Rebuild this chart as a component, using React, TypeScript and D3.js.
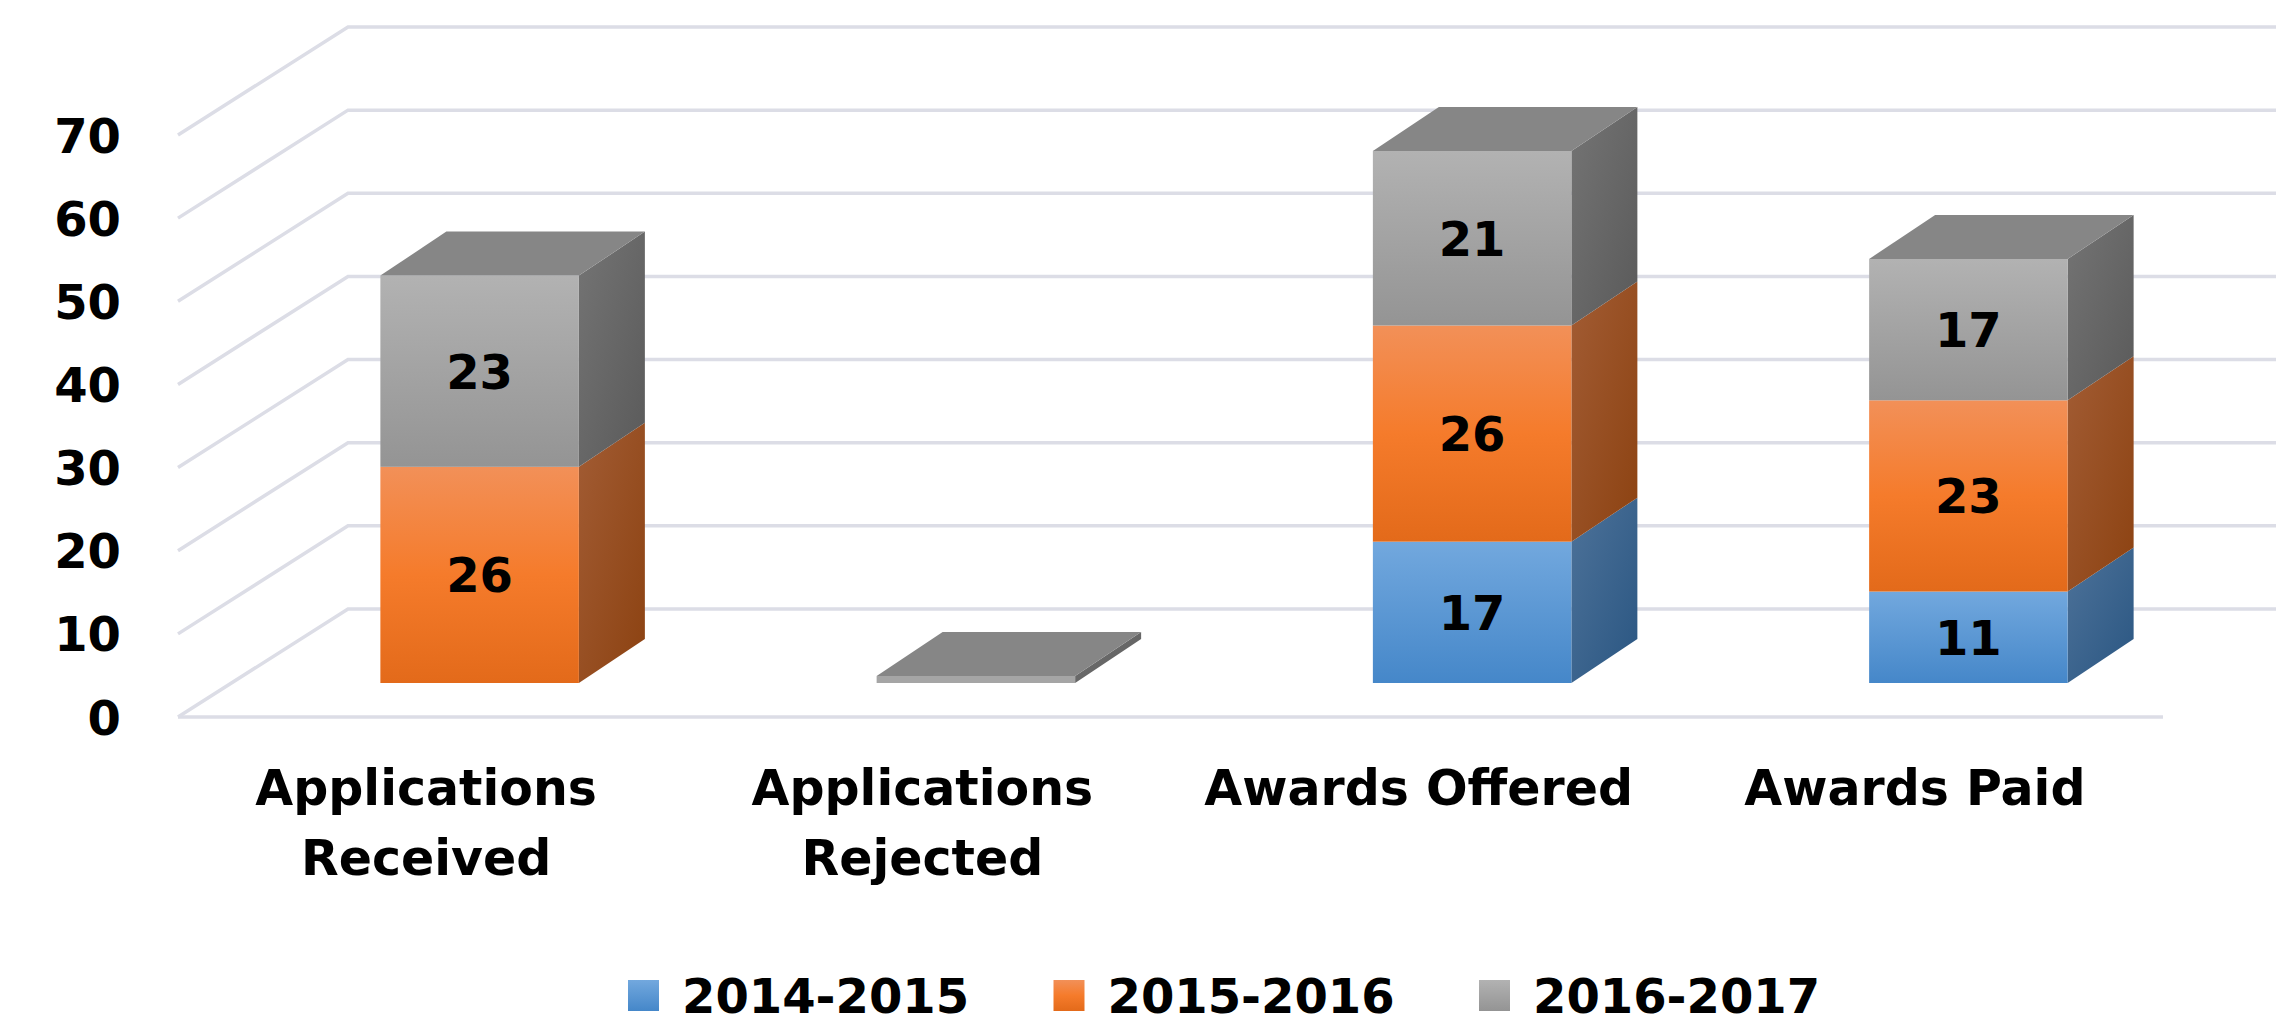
import React from "react";
import * as d3 from "d3";

// ---- data ----
const categories = ["Applications Received", "Applications Rejected", "Awards Offered", "Awards Paid"];
const seriesNames = ["2014-2015", "2015-2016", "2016-2017"];
const values2014 = [0, 0, 17, 11];
const values2015 = [26, 0, 26, 23];
const values2016 = [23, 0, 21, 17];
const yTicks = [0, 10, 20, 30, 40, 50, 60, 70];

const seriesValues = [values2014, values2015, values2016];

// ---- styles ----
const palette = [
  { frontTop: "#72a8de", frontBot: "#4587c9", sideTop: "#4d7299", sideBot: "#2a5682", topFace: "#3f6f9f" },
  { frontTop: "#f29058", frontMid: "#f57b2b", frontBot: "#e36a1a", sideTop: "#a25c34", sideBot: "#8c4211", topFace: "#b4581c" },
  { frontTop: "#b2b2b2", frontBot: "#949494", sideTop: "#747474", sideBot: "#5a5a5a", topFace: "#868686" },
];

const W = 2276;
const H = 1024;
const FONT = "'DejaVu Sans', Verdana, sans-serif";

export default function App() {
  const floorLeft = 178;
  const floorRight = 2163;
  const wallDx = 170;
  const wallDy = 108;
  const recessDx = 53.5;
  const recessDy = 34;
  const depthDx = 66;
  const depthDy = 44;
  const slab = 7;

  const y = d3.scaleLinear().domain([0, 70]).range([717, 135]);
  const x = d3.scaleBand<string>().domain(categories).range([floorLeft, floorRight]).paddingInner(0.6).paddingOuter(0.3);
  const bw = x.bandwidth();

  const stack = d3
    .stack<number>()
    .keys(seriesNames.map((_, i) => String(i)))
    .value((d, key) => seriesValues[+key][d]);
  const layers = stack(categories.map((_, i) => i));

  const pts = (arr: number[][]) => arr.map((p) => p.join(",")).join(" ");

  return (
    <svg
      width={W}
      height={H}
      style={{ position: "absolute", left: 0, top: 0, background: "#fff" }}
      fontFamily={FONT}
    >
      <defs>
        {palette.map((c, i) => (
          <React.Fragment key={i}>
            <linearGradient id={`front${i}`} x1="0" y1="0" x2="0" y2="1">
              <stop offset="0" stopColor={c.frontTop} />
              {c.frontMid ? <stop offset="0.5" stopColor={c.frontMid} /> : null}
              <stop offset="1" stopColor={c.frontBot} />
            </linearGradient>
            <linearGradient id={`side${i}`} x1="0" y1="0" x2="1" y2="1">
              <stop offset="0" stopColor={c.sideTop} />
              <stop offset="1" stopColor={c.sideBot} />
            </linearGradient>
          </React.Fragment>
        ))}
      </defs>

      {/* gridlines: side wall diagonals + back wall horizontals */}
      <g stroke="#dcdde6" strokeWidth={3.5} fill="none">
        {yTicks.map((t) => (
          <polyline
            key={t}
            points={pts([
              [floorLeft, y(t)],
              [floorLeft + wallDx, y(t) - wallDy],
              [floorRight + wallDx, y(t) - wallDy],
            ])}
          />
        ))}
        <line x1={floorLeft} x2={floorRight} y1={y(0)} y2={y(0)} />
      </g>

      {/* y tick labels */}
      <g fontSize={48} fontWeight="bold" fill="#000" textAnchor="end">
        {yTicks.map((t) => (
          <text key={t} x={121} y={y(t) + 17.5}>
            {t}
          </text>
        ))}
      </g>

      {/* bars */}
      {categories.map((cat, ci) => {
        const xl = (x(cat) as number) + recessDx;
        const xr = xl + bw;
        const Y = (v: number) => y(v) - recessDy;
        const total = d3.sum(seriesValues, (s) => s[ci]);
        const segs = layers
          .map((L, si) => ({ si, v0: L[ci][0], v1: L[ci][1], val: seriesValues[si][ci] }))
          .filter((s) => s.val > 0);
        let topY: number;
        let topSeries: number;
        const faces: React.ReactNode[] = [];
        if (segs.length === 0) {
          const si = seriesNames.length - 1;
          const yb = Y(0);
          const yt = yb - slab;
          topY = yt;
          topSeries = si;
          faces.push(
            <polygon
              key="s"
              points={pts([[xr, yt], [xr + depthDx, yt - depthDy], [xr + depthDx, yb - depthDy], [xr, yb]])}
              fill={`url(#side${si})`}
            />,
            <rect key="f" x={xl} y={yt} width={bw} height={yb - yt} fill="#a5a5a5" />
          );
        } else {
          segs.forEach((s) => {
            const yb = Y(s.v0);
            const yt = Y(s.v1);
            faces.push(
              <polygon
                key={`s${s.si}`}
                points={pts([[xr, yt], [xr + depthDx, yt - depthDy], [xr + depthDx, yb - depthDy], [xr, yb]])}
                fill={`url(#side${s.si})`}
              />,
              <rect key={`f${s.si}`} x={xl} y={yt} width={bw} height={yb - yt} fill={`url(#front${s.si})`} />
            );
          });
          const last = segs[segs.length - 1];
          topY = Y(last.v1);
          topSeries = last.si;
        }
        return (
          <g key={cat}>
            {faces}
            <polygon
              points={pts([[xl, topY], [xl + depthDx, topY - depthDy], [xr + depthDx, topY - depthDy], [xr, topY]])}
              fill={palette[topSeries].topFace}
            />
            <g fontSize={48} fontWeight="bold" fill="#000" textAnchor="middle">
              {segs.map((s) => (
                <text key={s.si} x={xl + bw / 2} y={(Y(s.v0) + Y(s.v1)) / 2 + 17.5}>
                  {s.val}
                </text>
              ))}
            </g>
          </g>
        );
      })}

      {/* category labels */}
      <g fontSize={49} fontWeight="bold" fill="#000" textAnchor="middle">
        {categories.map((cat) => {
          const cx = (x(cat) as number) + bw / 2;
          const words = cat.split(" ");
          const lines = cat.length > 15 ? [words[0], words.slice(1).join(" ")] : [cat];
          return lines.map((ln, li) => (
            <text key={cat + li} x={cx} y={y(0) + 88 + li * 70}>
              {ln}
            </text>
          ));
        })}
      </g>

      {/* legend */}
      <g fontSize={48} fontWeight="bold" fill="#000">
        {seriesNames.map((name, i) => {
          const lx = 628 + i * 425.5;
          return (
            <g key={name}>
              <rect x={lx} y={980} width={31} height={31} fill={`url(#front${i})`} />
              <text x={lx + 54} y={1013}>
                {name}
              </text>
            </g>
          );
        })}
      </g>
    </svg>
  );
}
